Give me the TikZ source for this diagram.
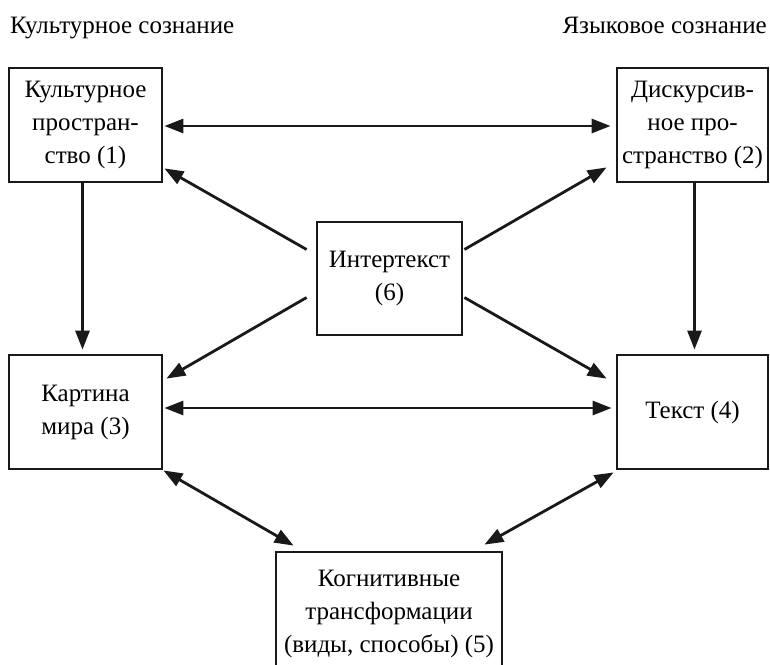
\documentclass[tikz,border=0pt]{standalone}
\usepackage{fontspec}
\setmainfont{Liberation Serif}
\usetikzlibrary{arrows.meta,calc}
\begin{document}
\begin{tikzpicture}[x=1pt,y=-1pt,
  box/.style={draw=black!90, line width=2.8pt, align=center, inner sep=0pt,
    font=\fontsize{25}{33}\selectfont},
  ttl/.style={font=\fontsize{25}{33}\selectfont, inner sep=0pt},
  arr/.style={line width=2.8pt, draw=black!90, -{Triangle[length=19pt,width=14pt]}},
  darr/.style={line width=2.8pt, draw=black!90, {Triangle[length=19pt,width=14pt]}-{Triangle[length=19pt,width=14pt]}}]
\clip (0,0) rectangle (770,664);
\node[ttl, anchor=base west] (t1) at (10,33) {Культурное сознание};
\node[ttl, anchor=base east] (t2) at (767,33) {Языковое сознание};
\node[box, minimum width=153pt, minimum height=114pt] (b1) at (85.5,125)
  {Культурное\\ простран-\\ ство (1)};
\node[box, minimum width=151pt, minimum height=114pt] (b2) at (692.5,125)
  {Дискурсив-\\ ное про-\\ странство (2)};
\node[box, minimum width=153pt, minimum height=114pt] (b3) at (85.5,412)
  {Картина\\ мира (3)};
\node[box, minimum width=151pt, minimum height=114pt] (b4) at (692.5,412)
  {Текст (4)};
\node[box, minimum width=145pt, minimum height=113pt] (b6) at (389.5,278.5)
  {Интертекст\\ (6)};
\node[box, minimum width=226pt, minimum height=124pt] (b5) at (389,614)
  {Когнитивные\\ трансформации\\ (виды, способы) (5)};
% horizontal
\draw[darr] ($(b1.east)+(1,1)$) -- ($(b2.west)+(-5,1)$);
\draw[darr] ($(b3.east)+(1,-4)$) -- ($(b4.west)+(-4,-4)$);
% vertical
\draw[arr] ($(b1.south)+(-3,0)$) -- ($(b3.north)+(-3,-4)$);
\draw[arr] ($(b2.south)+(2,0)$) -- ($(b4.north)+(2,-4)$);
% diagonals from intertext
\draw[arr] ($(b6.west)+(-9,-29)$) -- ($(b1.south east)+(1,-15)$);
\draw[arr] ($(b6.east)+(1,-29)$) -- ($(b2.south west)+(-9,-16)$);
\draw[arr] ($(b6.west)+(-9,19)$) -- ($(b3.north east)+(3,25)$);
\draw[arr] ($(b6.east)+(1,19)$) -- ($(b4.north west)+(-9,25)$);
% to cognitive transformations
\draw[darr] (b3.south east) -- ($(b5.north west)+(19,-5)$);
\draw[darr] ($(b4.south west)+(-2,2)$) -- ($(b5.north east)+(-19,-6)$);
\end{tikzpicture}
\end{document}
